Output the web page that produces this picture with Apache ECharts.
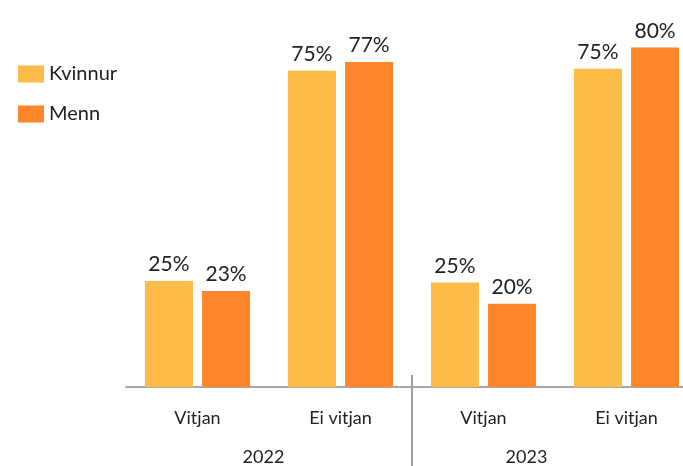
<!DOCTYPE html>
<html>
<head>
<meta charset="utf-8">
<script src="https://cdn.jsdelivr.net/npm/echarts@6/dist/echarts.min.js"></script>
<style>
  html, body { margin: 0; padding: 0; background: #fff; }
  #chart { width: 683px; height: 466px; }
</style>
</head>
<body>
<div id="chart"></div>
<script>
// data
const categories = ["Vitjan", "Ei vitjan", "Vitjan", "Ei vitjan"];
const years = ["2022", "2023"];
const kvinnur = [25.0, 74.5, 24.6, 75.0];
const menn = [22.6, 76.6, 19.6, 80.0];

const colors = ["#fdbb48", "#fe852a"];
const font = "Lato, 'Open Sans', sans-serif";

let myChart = echarts.init(document.getElementById("chart"));

let labelOpt = {
  show: true,
  position: "top",
  distance: 6,
  fontSize: 21,
  fontFamily: font,
  color: "#222",
  formatter: function(p) {
    return Math.round(p.value) + "%";
  }
};

let option = {
  animation: false,
  color: colors,
  textStyle: { fontFamily: font },
  legend: {
    orient: "vertical",
    left: 18,
    top: 64,
    padding: 0,
    icon: "rect",
    itemWidth: 26,
    itemHeight: 17,
    itemGap: 20,
    textStyle: { fontSize: 20, color: "#222", fontFamily: font }
  },
  grid: [
    { left: 126, width: 572, top: 5, bottom: 79, outerBoundsMode: "none" },
    { left: 126, width: 572, top: 375, bottom: 0, outerBoundsMode: "none" },
    { left: 132, width: 526, top: 440, height: 1, outerBoundsMode: "none" }
  ],
  xAxis: [
    {
      type: "category",
      gridIndex: 0,
      data: categories,
      axisLine: { lineStyle: { color: "#a6a6a6", width: 2 } },
      axisTick: { show: false },
      axisLabel: { fontSize: 18, color: "#222", margin: 22, fontFamily: font }
    },
    {
      // divider between the two years
      type: "value",
      gridIndex: 1,
      min: 0,
      max: 4,
      interval: 2,
      axisLine: { show: false },
      axisTick: { show: false },
      axisLabel: { show: false },
      splitLine: {
        show: true,
        showMinLine: false,
        showMaxLine: false,
        lineStyle: { color: "#a0a0a0", width: 2 }
      }
    },
    {
      type: "category",
      gridIndex: 2,
      data: years,
      axisLine: { show: false },
      axisTick: { show: false },
      axisLabel: { fontSize: 18, color: "#222", margin: 7, fontFamily: font }
    }
  ],
  yAxis: [
    { type: "value", gridIndex: 0, min: 0, max: 90, show: false },
    { type: "value", gridIndex: 1, show: false },
    { type: "value", gridIndex: 2, show: false }
  ],
  series: [
    {
      name: "Kvinnur",
      type: "bar",
      barWidth: 48,
      barGap: "19%",
      label: labelOpt,
      data: kvinnur
    },
    {
      name: "Menn",
      type: "bar",
      barWidth: 48,
      barGap: "19%",
      label: labelOpt,
      data: menn
    }
  ]
};

myChart.setOption(option);
</script>
</body>
</html>
